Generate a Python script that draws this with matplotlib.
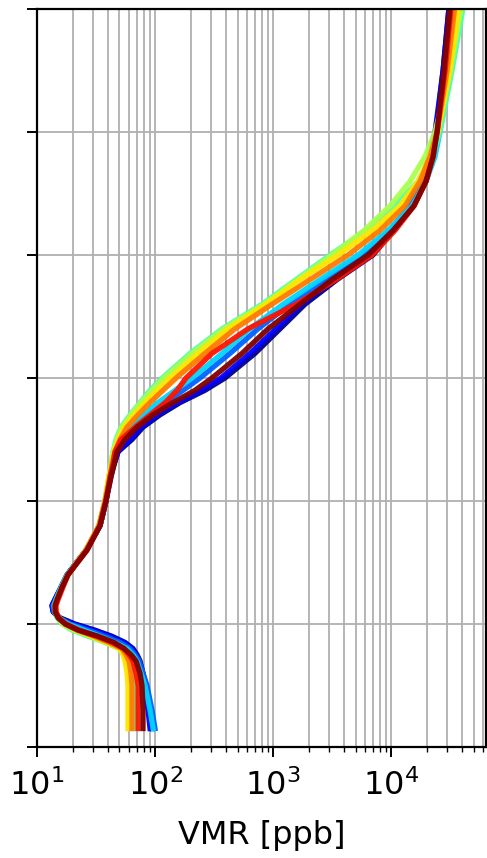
import matplotlib
matplotlib.use("Agg")
import matplotlib.pyplot as plt
import numpy as np

# altitude levels [km]
alt = [1.5, 3, 5, 6, 7, 7.5, 8, 8.5, 9, 9.5, 10, 10.5, 11, 11.5, 12, 13, 14, 16, 18, 20, 22, 23, 24,
       25, 26, 27, 28, 29, 30, 32, 34, 36, 38, 40, 42, 44, 46, 48, 50, 55, 61]

# VMR profiles [ppb], one per member
vmr_0 = [94.3, 90.7, 83.9, 79.1, 74.6, 70.4, 65.1, 55.7, 43.2, 31.0, 21.0, 15.7, 13.7, 13.4, 14.2, 16.0, 18.0,
         26.0, 34.2, 38.4, 41.6, 45.0, 48.6,
         63.8, 79.1, 110, 163, 265, 392, 703, 1147, 1867, 3484, 7031, 10400, 14490, 18320, 21430, 24050, 27600, 31600]
vmr_1 = [90.7, 87.2, 82.3, 77.6, 73.2, 69.0, 63.8, 54.6, 41.6, 29.8, 20.2, 15.3, 13.7, 13.4, 14.2, 16.0, 18.0,
         26.0, 34.2, 38.4, 42.4, 45.0, 48.6,
         61.4, 76.1, 104, 154, 245, 362, 638, 1060, 1762, 3223, 6637, 10000, 14220, 17950, 20990, 23600, 27600, 31600]
vmr_2 = [100, 94.3, 85.5, 79.1, 73.2, 67.7, 61.4, 50.5, 37.7, 27.1, 19.0, 15.3, 13.9, 13.7, 14.5, 16.0, 18.0,
         26.0, 34.2, 38.4, 41.6, 44.1, 46.7,
         54.6, 65.1, 87.2, 122, 173, 241, 432, 746, 1393, 2760, 5680, 9817, 14490, 18670, 22250, 25000, 29850, 35560]
vmr_3 = [96.2, 90.7, 82.3, 76.1, 70.4, 65.1, 57.9, 45.8, 34.2, 25.0, 18.3, 15.3, 14.2, 13.9, 14.5, 16.0, 18.0,
         26.0, 34.2, 38.4, 41.6, 44.1, 45.8,
         51.5, 61.4, 79.1, 106, 148, 206, 370, 638, 1216, 2503, 5248, 9441, 15070, 19820, 23600, 26000, 31600, 38460]
vmr_4 = [67.7, 67.7, 66.4, 63.8, 59.0, 55.7, 50.5, 37.7, 27.1, 19.8, 16.3, 14.8, 14.2, 14.2, 14.8, 16.3, 18.3,
         26.0, 33.5, 37.7, 40.7, 42.4, 44.1,
         46.7, 51.5, 61.4, 74.6, 90.7, 115, 198, 370, 807, 1566, 3042, 6138, 10810, 16940, 22250, 26000, 32900, 42400]
vmr_5 = [61.4, 61.4, 61.4, 60.2, 56.8, 54.6, 49.5, 37.7, 28.1, 20.6, 16.6, 15.1, 14.2, 14.2, 14.8, 16.3, 18.3,
         26.0, 33.5, 37.7, 40.7, 42.4, 44.1,
         47.6, 52.5, 62.6, 76.1, 94.3, 119, 206, 384, 839, 1629, 3162, 5902, 9817, 14490, 19410, 23600, 31600, 40740]
vmr_6 = [59.0, 59.0, 59.0, 57.9, 55.7, 53.6, 50.5, 39.2, 29.3, 21.4, 16.9, 15.1, 14.5, 14.2, 14.8, 16.3, 18.3,
         26.0, 33.5, 37.7, 40.7, 43.2, 45.0,
         48.6, 54.6, 66.4, 82.3, 104, 134, 231, 416, 873, 1694, 3555, 6902, 11910, 16940, 21430, 25000, 31600, 38460]
vmr_7 = [63.8, 63.8, 63.8, 62.6, 60.2, 56.8, 52.5, 40.7, 30.4, 21.8, 17.3, 15.1, 14.5, 14.2, 14.8, 16.3, 18.3,
         26.0, 33.5, 37.7, 41.6, 43.2, 45.8,
         50.5, 57.9, 71.8, 90.7, 117, 151, 265, 476, 982, 2059, 4322, 8070, 13150, 17620, 21430, 24550, 29850, 35560]
vmr_8 = [71.8, 71.8, 71.8, 69.0, 65.1, 60.2, 54.6, 43.2, 32.2, 22.7, 17.6, 15.3, 14.5, 14.5, 15.1, 16.6, 18.3,
         26.5, 34.2, 38.4, 41.6, 44.1, 45.8,
         51.5, 67.7, 90.7, 122, 154, 183, 304, 614, 1566, 3420, 6902, 10810, 15660, 19820, 22700, 24550, 28700, 32900]
vmr_9 = [79.1, 79.1, 77.6, 74.6, 69.0, 62.6, 54.6, 45.0, 32.9, 22.3, 17.3, 15.1, 14.2, 14.2, 14.8, 16.3, 18.3,
         26.5, 34.2, 38.4, 42.4, 45.0, 47.6,
         55.7, 70.4, 96.2, 142, 218, 304, 546, 908, 1694, 3162, 6383, 10400, 15660, 19820, 22700, 24550, 28100, 32200]

profiles = [vmr_0, vmr_1, vmr_2, vmr_3, vmr_4, vmr_5, vmr_6, vmr_7, vmr_8, vmr_9]

fig = plt.figure(figsize=(4.87, 8.58), dpi=100)
ax = fig.add_axes([0.076, 0.1294, 0.922, 0.8601])

cmap = plt.get_cmap("jet")
colors = cmap(np.linspace(0, 1, len(profiles)))

for v, c in zip(profiles, colors):
    ax.plot(v, alt, color=c, lw=3.8, alpha=0.95, solid_joinstyle="round")

ax.set_xscale("log")
ax.set_xlim(10, 63800)
ax.set_ylim(0, 60)
ax.set_yticks(np.arange(0, 61, 10))
ax.set_yticklabels([])

ax.grid(True, which="major", axis="both", color="#b0b0b0", lw=1.3)
ax.grid(True, which="minor", axis="x", color="#b0b0b0", lw=1.3)
ax.set_axisbelow(True)

for s in ax.spines.values():
    s.set_linewidth(1.6)
ax.tick_params(which="major", length=7, width=1.4, labelsize=23, pad=9)
ax.tick_params(which="minor", length=3.5, width=1.0)

ax.set_xlabel("VMR [ppb]", fontsize=23, labelpad=13)

fig.savefig("out.png", dpi=100)
